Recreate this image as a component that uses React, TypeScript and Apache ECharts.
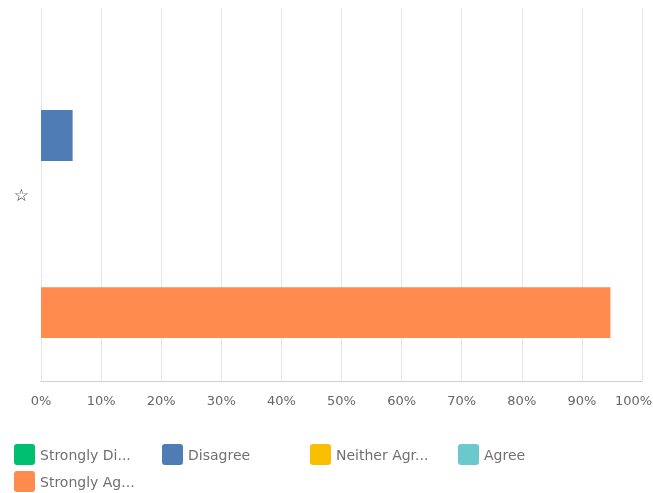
import React, { useEffect, useRef } from "react";
import * as echarts from "echarts";

const categories = ["☆"];
const seriesNames = ["Strongly Disagree", "Disagree", "Neither Agree nor Disagree", "Agree", "Strongly Agree"];
const legendLabels = ["Strongly Di...", "Disagree", "Neither Agr...", "Agree", "Strongly Ag..."];
const seriesValues = [0, 5.26, 0, 0, 94.74];
const colors = ["#00BF6F", "#507CB6", "#F9BE00", "#6BC8CD", "#FF8B4F"];
const xTicks = [0, 10, 20, 30, 40, 50, 60, 70, 80, 90, 100];

const FONT = "'DejaVu Sans', sans-serif";

export default function App() {
  const ref = useRef<HTMLDivElement>(null);
  useEffect(() => {
    if (!ref.current) return;
    const chart = echarts.init(ref.current, undefined, { renderer: "svg", width: 653, height: 493 });
    const maxTick = xTicks[xTicks.length - 1];
    const legends = seriesNames.map((name, i) => ({
      left: 14 + (i % 4) * 148,
      top: 444 + Math.floor(i / 4) * 27,
      padding: 0,
      itemWidth: 21,
      itemHeight: 21,
      icon: "path://M3,0 H18 A3,3 0 0 1 21,3 V18 A3,3 0 0 1 18,21 H3 A3,3 0 0 1 0,18 V3 A3,3 0 0 1 3,0 Z",
      data: [name],
      formatter: () => legendLabels[i],
      textStyle: { color: "#707070", fontSize: 14, fontFamily: FONT },
      selectedMode: false,
    }));
    chart.setOption({
      animation: false,
      textStyle: { fontFamily: FONT },
      grid: { left: 41, right: 11, top: 8, bottom: 112, containLabel: false, outerBoundsMode: "none" },
      xAxis: {
        type: "value",
        min: xTicks[0],
        max: maxTick,
        interval: 10,
        axisLabel: {
          formatter: (v: number) => (v === maxTick ? `{last|${v}%}` : `${v}%`),
          color: "#666",
          fontSize: 13,
          margin: 13,
          rich: { last: { color: "#666", fontSize: 13, fontFamily: FONT, padding: [0, 17, 0, 0] } },
        },
        axisLine: { show: true, lineStyle: { color: "#d0d0d0", width: 1 } },
        axisTick: { show: false },
        splitLine: { show: true, lineStyle: { color: "#e6e6e6", width: 1 } },
      },
      yAxis: {
        type: "category",
        data: categories,
        inverse: true,
        axisLine: { show: false },
        axisTick: { show: false },
        axisLabel: { color: "#333", fontSize: 17, fontFamily: "DejaVu Sans", margin: 12 },
      },
      legend: legends,
      series: seriesNames.map((name, i) => ({
        name,
        type: "bar",
        data: [seriesValues[i]],
        itemStyle: { color: colors[i] },
        barGap: "16%",
        barCategoryGap: "23%",
      })),
    });
    return () => chart.dispose();
  }, []);
  return (
    <div
      ref={ref}
      style={{ position: "fixed", left: 0, top: 0, width: 653, height: 493 }}
    />
  );
}
